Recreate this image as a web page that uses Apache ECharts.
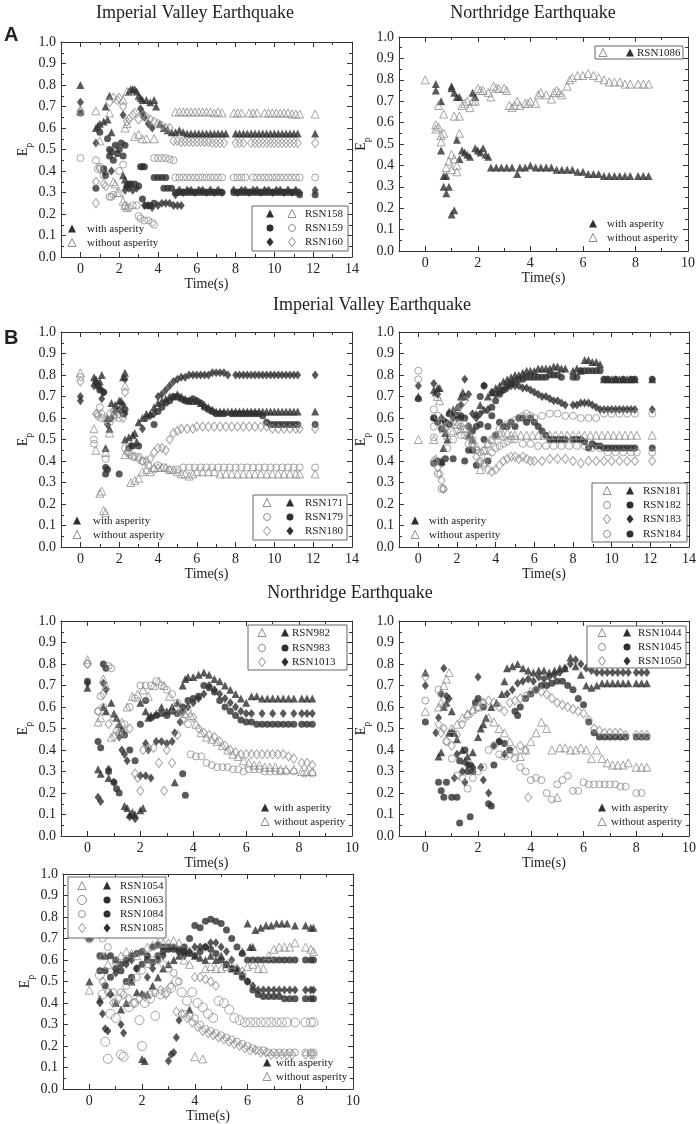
<!DOCTYPE html>
<html>
<head>
<meta charset="utf-8">
<script src="https://cdn.jsdelivr.net/npm/echarts@6/dist/echarts.min.js"></script>
<style>
html, body { margin: 0; padding: 0; background: #fff; }
#chart { width: 699px; height: 1124px; }
</style>
</head>
<body>
<div id="chart"></div>
<script>
// tick values
var ticks14 = [0, 2, 4, 6, 8, 10, 12, 14];
var minor14 = [-1, 1, 3, 5, 7, 9, 11, 13];
var ticks10 = [0, 2, 4, 6, 8, 10];
var minor10 = [-1, 1, 3, 5, 7, 9];

// ---- A, Imperial Valley: [time, Ep] ----
var a158With = [[0,0.80],[0.8,0.60],[0.9,0.61],[1.0,0.62],[1.2,0.63],[1.3,0.70],[1.4,0.64],[1.5,0.75],[1.6,0.58],[2.2,0.38],[2.3,0.36],[2.4,0.34],[2.5,0.77],[2.6,0.78],[2.7,0.78],[2.8,0.78],[2.9,0.77],[3.0,0.75],[3.1,0.74],[3.2,0.73],[3.4,0.73],[3.6,0.72],[3.8,0.73],[3.9,0.70],[4.1,0.62],[4.3,0.60],[4.5,0.59],[4.7,0.58],[4.9,0.58],[5.1,0.59],[5.3,0.58],[5.5,0.575],[5.7,0.575],[5.9,0.575],[6.1,0.575],[6.3,0.575],[6.5,0.575],[6.7,0.575],[6.9,0.575],[7.1,0.575],[7.3,0.575],[7.5,0.575],[8.0,0.575],[8.2,0.575],[8.4,0.575],[8.6,0.575],[8.8,0.575],[9.0,0.575],[9.2,0.575],[9.4,0.575],[9.6,0.575],[9.8,0.575],[10.0,0.575],[10.2,0.575],[10.4,0.575],[10.6,0.575],[10.8,0.575],[11.0,0.575],[11.2,0.575],[12.1,0.575]];
var a158Without = [[0,0.68],[0.8,0.68],[1.0,0.54],[1.5,0.67],[1.7,0.35],[1.8,0.34],[1.9,0.30],[2.0,0.30],[2.2,0.26],[2.3,0.60],[2.4,0.62],[2.3,0.24],[2.4,0.23],[2.2,0.73],[2.4,0.77],[2.8,0.56],[3.0,0.57],[3.2,0.55],[3.4,0.55],[3.8,0.55],[4.9,0.675],[5.1,0.675],[5.3,0.675],[5.5,0.675],[5.7,0.675],[5.9,0.675],[6.1,0.675],[6.3,0.675],[6.5,0.675],[6.7,0.675],[6.9,0.67],[7.1,0.675],[7.3,0.67],[7.9,0.67],[8.1,0.67],[8.3,0.67],[8.7,0.67],[8.9,0.67],[9.1,0.67],[9.5,0.67],[9.7,0.67],[9.9,0.67],[10.1,0.67],[10.3,0.67],[10.5,0.67],[10.7,0.67],[10.9,0.665],[11.1,0.665],[11.3,0.665],[12.1,0.665]];
var a159With = [[0,0.67],[0.8,0.32],[1.0,0.58],[1.2,0.41],[1.3,0.38],[1.4,0.55],[1.5,0.50],[1.5,0.47],[1.6,0.49],[1.7,0.45],[1.8,0.52],[1.9,0.48],[2.0,0.50],[2.1,0.53],[2.2,0.47],[2.3,0.52],[2.4,0.33],[2.5,0.34],[2.6,0.34],[2.8,0.34],[3.0,0.33],[3.1,0.42],[3.2,0.42],[3.3,0.42],[3.2,0.27],[3.4,0.24],[3.6,0.24],[3.8,0.25],[3.8,0.37],[4.0,0.37],[4.2,0.37],[4.4,0.37],[4.3,0.32],[4.5,0.32],[4.7,0.32],[4.9,0.30],[5.1,0.30],[5.3,0.30],[5.5,0.30],[5.7,0.30],[5.9,0.30],[6.1,0.30],[6.3,0.30],[6.5,0.30],[6.7,0.30],[6.9,0.30],[7.1,0.30],[7.3,0.30],[7.9,0.30],[8.1,0.30],[8.3,0.30],[8.5,0.30],[8.7,0.30],[8.9,0.30],[9.1,0.30],[9.3,0.30],[9.5,0.30],[9.7,0.30],[9.9,0.30],[10.1,0.30],[10.3,0.30],[10.5,0.30],[10.7,0.30],[10.9,0.30],[11.1,0.30],[11.3,0.29],[12.1,0.29]];
var a159Without = [[0,0.46],[0.8,0.45],[0.9,0.41],[1.0,0.42],[1.2,0.38],[1.3,0.39],[1.5,0.28],[1.6,0.28],[1.7,0.29],[2.0,0.40],[2.2,0.43],[2.3,0.24],[2.5,0.23],[2.7,0.24],[2.9,0.24],[3.0,0.19],[3.1,0.18],[3.3,0.17],[3.5,0.17],[3.7,0.16],[3.8,0.15],[3.8,0.46],[4.0,0.46],[4.2,0.46],[4.4,0.46],[4.6,0.455],[4.8,0.45],[4.9,0.37],[5.1,0.37],[5.3,0.37],[5.5,0.37],[5.7,0.37],[5.9,0.37],[6.1,0.37],[6.3,0.37],[6.5,0.37],[6.7,0.37],[6.9,0.37],[7.1,0.37],[7.3,0.37],[7.9,0.37],[8.1,0.37],[8.3,0.37],[8.5,0.37],[8.9,0.37],[9.1,0.37],[9.3,0.37],[9.5,0.37],[9.7,0.37],[9.9,0.37],[10.1,0.37],[10.3,0.37],[10.5,0.37],[10.7,0.37],[10.9,0.37],[11.1,0.37],[11.3,0.37],[12.1,0.37]];
var a160With = [[0,0.72],[0.8,0.53],[1.2,0.40],[1.3,0.38],[1.6,0.40],[2.2,0.66],[2.3,0.31],[2.5,0.32],[2.7,0.31],[2.9,0.32],[3.1,0.69],[3.2,0.67],[3.3,0.65],[3.5,0.62],[3.7,0.60],[3.3,0.24],[3.5,0.24],[3.7,0.23],[4.0,0.24],[4.2,0.25],[4.4,0.25],[4.6,0.25],[4.8,0.24],[5.0,0.24],[5.2,0.24],[4.9,0.29],[5.1,0.31],[5.3,0.30],[5.5,0.31],[5.7,0.31],[5.9,0.30],[6.1,0.31],[6.3,0.31],[6.5,0.30],[6.7,0.31],[6.9,0.30],[7.1,0.31],[7.3,0.30],[7.9,0.31],[8.1,0.30],[8.3,0.31],[8.5,0.31],[8.7,0.30],[8.9,0.31],[9.1,0.31],[9.3,0.30],[9.5,0.31],[9.7,0.31],[9.9,0.30],[10.1,0.31],[10.3,0.31],[10.5,0.30],[10.7,0.31],[10.9,0.30],[11.1,0.31],[11.3,0.30],[12.1,0.31]];
var a160Without = [[0,0.68],[0.8,0.35],[0.8,0.25],[1.0,0.41],[1.2,0.34],[1.3,0.33],[1.5,0.72],[1.7,0.74],[1.9,0.73],[2.0,0.74],[2.2,0.70],[2.4,0.63],[2.5,0.64],[2.7,0.66],[2.8,0.67],[3.0,0.64],[3.2,0.66],[3.4,0.65],[3.6,0.64],[3.8,0.63],[4.0,0.62],[4.2,0.61],[4.4,0.60],[4.6,0.60],[4.8,0.54],[5.0,0.54],[5.2,0.535],[5.4,0.535],[5.6,0.535],[5.8,0.535],[6.0,0.535],[6.2,0.535],[6.4,0.535],[6.6,0.535],[6.8,0.53],[7.0,0.53],[7.2,0.53],[7.4,0.53],[8.0,0.53],[8.2,0.53],[8.4,0.53],[8.8,0.53],[9.0,0.53],[9.2,0.53],[9.4,0.53],[9.6,0.53],[9.8,0.53],[10.0,0.53],[10.2,0.53],[10.4,0.53],[10.6,0.53],[10.8,0.53],[11.0,0.53],[11.2,0.53],[12.1,0.53]];

// ---- A, Northridge ----
var a1086With = [[0.4,0.78],[0.4,0.75],[0.6,0.70],[0.6,0.47],[0.7,0.35],[0.7,0.30],[0.8,0.27],[0.8,0.35],[0.9,0.30],[1.0,0.77],[1.0,0.76],[1.0,0.17],[1.1,0.19],[1.1,0.74],[1.2,0.72],[1.2,0.52],[1.3,0.72],[1.3,0.43],[1.4,0.47],[1.5,0.46],[1.6,0.45],[1.7,0.44],[1.8,0.74],[1.9,0.72],[1.9,0.48],[2.0,0.47],[2.1,0.46],[2.2,0.48],[2.3,0.45],[2.4,0.44],[2.5,0.39],[2.7,0.39],[2.9,0.39],[3.1,0.39],[3.3,0.39],[3.5,0.36],[3.6,0.39],[3.8,0.39],[4.0,0.40],[4.2,0.39],[4.4,0.39],[4.6,0.39],[4.8,0.39],[5.0,0.38],[5.2,0.38],[5.4,0.38],[5.6,0.38],[5.8,0.37],[6.0,0.37],[6.2,0.36],[6.4,0.36],[6.6,0.36],[6.8,0.35],[7.0,0.35],[7.2,0.35],[7.4,0.35],[7.6,0.35],[7.8,0.35],[8.1,0.35],[8.3,0.35],[8.5,0.35]];
var a1086Without = [[0,0.80],[0.4,0.59],[0.4,0.57],[0.5,0.68],[0.5,0.58],[0.6,0.54],[0.6,0.51],[0.7,0.55],[0.7,0.64],[0.8,0.39],[0.9,0.42],[1.0,0.45],[1.0,0.38],[1.1,0.43],[1.1,0.63],[1.2,0.40],[1.2,0.37],[1.3,0.55],[1.3,0.63],[1.4,0.68],[1.5,0.69],[1.6,0.70],[1.7,0.67],[1.8,0.70],[1.9,0.70],[2.0,0.76],[2.1,0.75],[2.2,0.75],[2.4,0.74],[2.5,0.72],[2.6,0.77],[2.7,0.76],[2.8,0.76],[3.0,0.76],[3.1,0.75],[3.2,0.68],[3.3,0.67],[3.4,0.68],[3.5,0.70],[3.6,0.68],[3.8,0.69],[3.9,0.69],[4.0,0.70],[4.2,0.69],[4.3,0.73],[4.4,0.74],[4.6,0.73],[4.8,0.71],[4.9,0.74],[5.0,0.75],[5.1,0.74],[5.2,0.73],[5.4,0.77],[5.5,0.80],[5.6,0.81],[5.8,0.82],[6.0,0.82],[6.2,0.83],[6.4,0.82],[6.6,0.81],[6.8,0.80],[7.0,0.79],[7.2,0.79],[7.4,0.79],[7.6,0.78],[7.8,0.78],[8.1,0.78],[8.3,0.78],[8.5,0.78]];

// ---- B, Imperial Valley (left) ----
var b171With = [[0.7,0.79],[0.8,0.78],[1.0,0.77],[1.1,0.80],[1.3,0.46],[1.4,0.60],[1.5,0.55],[1.6,0.67],[1.8,0.66],[2.0,0.68],[2.1,0.68],[2.2,0.79],[2.3,0.81],[2.3,0.50],[2.5,0.51],[2.7,0.52],[2.8,0.53],[2.9,0.49],[3.0,0.58],[3.2,0.60],[3.4,0.62],[3.6,0.62],[3.8,0.65],[4.0,0.67],[4.2,0.68],[4.4,0.69],[4.6,0.70],[4.8,0.70],[5.0,0.71],[5.2,0.70],[5.4,0.69],[5.6,0.68],[5.8,0.68],[6.0,0.68],[6.2,0.67],[6.4,0.66],[6.6,0.65],[6.8,0.64],[7.0,0.63],[7.2,0.63],[7.4,0.63],[7.6,0.63],[7.8,0.63],[8.0,0.63],[8.2,0.63],[8.4,0.63],[8.6,0.63],[8.8,0.63],[9.0,0.63],[9.2,0.63],[9.4,0.63],[9.6,0.63],[9.8,0.63],[10.0,0.63],[10.2,0.63],[10.4,0.63],[10.6,0.63],[10.8,0.63],[11.0,0.63],[11.2,0.63],[12.1,0.63]];
var b171Without = [[0,0.81],[0.7,0.55],[0.8,0.45],[1.0,0.25],[1.1,0.26],[1.2,0.17],[1.3,0.16],[1.3,0.44],[1.5,0.53],[1.7,0.62],[2.3,0.75],[2.3,0.43],[2.6,0.30],[2.8,0.31],[3.0,0.32],[3.2,0.35],[3.4,0.36],[3.6,0.35],[3.8,0.37],[4.0,0.37],[4.2,0.37],[4.4,0.37],[4.6,0.36],[4.8,0.36],[5.0,0.35],[5.2,0.34],[5.4,0.34],[5.6,0.33],[5.8,0.34],[6.0,0.35],[6.3,0.35],[6.6,0.35],[6.9,0.35],[7.2,0.34],[7.5,0.34],[7.8,0.34],[8.1,0.34],[8.4,0.34],[8.7,0.34],[9.0,0.34],[9.3,0.34],[9.6,0.34],[9.9,0.34],[10.2,0.34],[10.5,0.34],[10.8,0.34],[11.1,0.34],[11.3,0.34],[12.1,0.34]];
var b179With = [[0.9,0.75],[1.0,0.73],[1.2,0.72],[1.3,0.37],[1.3,0.34],[1.4,0.36],[2.0,0.34],[2.2,0.62],[2.3,0.64],[2.5,0.46],[2.7,0.47],[3.0,0.47],[3.8,0.57],[4.0,0.63],[4.2,0.65],[4.4,0.67],[4.6,0.68],[4.8,0.70],[5.0,0.70],[5.2,0.69],[5.4,0.68],[5.6,0.68],[5.8,0.69],[6.0,0.68],[6.2,0.67],[6.4,0.65],[6.6,0.64],[6.8,0.63],[7.0,0.62],[7.2,0.62],[7.4,0.62],[7.8,0.62],[8.0,0.62],[8.2,0.62],[8.4,0.62],[8.6,0.62],[8.8,0.62],[9.0,0.62],[9.2,0.62],[9.4,0.61],[9.6,0.58],[9.8,0.57],[10.0,0.57],[10.2,0.57],[10.4,0.57],[10.6,0.57],[10.8,0.57],[11.0,0.57],[11.2,0.57],[12.1,0.57]];
var b179Without = [[0,0.79],[0.7,0.50],[0.7,0.48],[0.9,0.62],[1.0,0.65],[1.1,0.60],[1.3,0.41],[1.5,0.58],[1.7,0.60],[2.0,0.60],[2.3,0.46],[2.5,0.44],[2.7,0.42],[3.0,0.42],[3.2,0.40],[3.5,0.38],[3.8,0.36],[4.0,0.38],[4.3,0.37],[4.6,0.36],[5.0,0.36],[5.3,0.37],[5.6,0.37],[5.9,0.37],[6.2,0.37],[6.5,0.37],[6.8,0.37],[7.1,0.37],[7.4,0.37],[7.7,0.37],[8.0,0.37],[8.3,0.37],[8.6,0.37],[8.9,0.37],[9.2,0.37],[9.5,0.37],[9.8,0.37],[10.1,0.37],[10.4,0.37],[10.7,0.37],[11.0,0.37],[11.3,0.37],[12.1,0.37]];
var b180With = [[0,0.70],[0,0.68],[0.7,0.75],[0.8,0.76],[1.0,0.74],[1.1,0.69],[1.2,0.72],[1.4,0.57],[1.6,0.60],[1.8,0.63],[2.0,0.64],[2.2,0.66],[2.3,0.78],[2.3,0.62],[2.6,0.47],[3.2,0.55],[3.4,0.60],[3.6,0.61],[3.8,0.62],[4.0,0.70],[4.2,0.71],[4.4,0.73],[4.6,0.75],[4.8,0.77],[5.0,0.78],[5.2,0.79],[5.4,0.79],[5.6,0.80],[5.8,0.80],[6.0,0.80],[6.2,0.80],[6.4,0.80],[6.6,0.80],[6.8,0.81],[7.0,0.81],[7.2,0.81],[7.4,0.81],[7.6,0.80],[8.0,0.80],[8.2,0.80],[8.4,0.80],[8.6,0.80],[8.8,0.80],[9.0,0.80],[9.2,0.80],[9.4,0.80],[9.6,0.80],[9.8,0.80],[10.0,0.80],[10.2,0.80],[10.4,0.80],[10.6,0.80],[10.8,0.80],[11.0,0.80],[11.2,0.80],[12.1,0.80]];
var b180Without = [[0,0.77],[0.8,0.62],[0.9,0.61],[1.1,0.62],[1.3,0.59],[1.5,0.62],[1.7,0.63],[2.0,0.62],[2.2,0.60],[2.3,0.72],[2.4,0.44],[2.6,0.43],[2.8,0.42],[3.0,0.41],[3.2,0.40],[3.4,0.40],[3.6,0.41],[3.8,0.44],[4.0,0.46],[4.2,0.46],[4.4,0.45],[4.6,0.50],[4.8,0.53],[5.0,0.54],[5.2,0.55],[5.5,0.55],[5.8,0.55],[6.0,0.56],[6.3,0.56],[6.6,0.56],[6.9,0.56],[7.2,0.56],[7.5,0.56],[7.8,0.56],[8.1,0.56],[8.4,0.56],[8.7,0.56],[9.0,0.56],[9.3,0.56],[9.6,0.56],[9.9,0.55],[10.2,0.55],[10.5,0.55],[10.8,0.55],[11.1,0.55],[11.3,0.55],[12.1,0.55]];

// ---- B, Imperial Valley (right) ----
var b181With = [[0,0.70],[0.8,0.73],[0.9,0.72],[1.0,0.74],[1.1,0.74],[1.2,0.40],[1.3,0.46],[1.4,0.53],[1.5,0.50],[1.6,0.63],[1.8,0.64],[2.0,0.65],[2.2,0.70],[2.3,0.72],[2.4,0.70],[2.6,0.52],[2.8,0.50],[3.0,0.62],[3.2,0.66],[3.4,0.64],[3.6,0.70],[3.8,0.72],[4.0,0.74],[4.2,0.75],[4.4,0.77],[4.6,0.78],[4.8,0.79],[5.0,0.80],[5.2,0.80],[5.4,0.81],[5.6,0.82],[5.8,0.82],[6.0,0.82],[6.2,0.83],[6.4,0.83],[6.6,0.83],[6.8,0.83],[7.0,0.84],[7.2,0.84],[7.4,0.83],[7.6,0.83],[8.0,0.82],[8.2,0.83],[8.4,0.82],[8.6,0.87],[8.8,0.87],[9.0,0.86],[9.2,0.86],[9.4,0.85],[9.6,0.78],[9.8,0.78],[10.0,0.78],[10.2,0.78],[10.4,0.78],[10.6,0.78],[10.8,0.78],[11.0,0.78],[11.2,0.78],[12.1,0.78]];
var b181Without = [[0,0.50],[0.8,0.50],[0.9,0.41],[1.0,0.70],[1.1,0.68],[1.3,0.55],[1.5,0.52],[1.8,0.54],[2.0,0.57],[2.2,0.55],[2.4,0.58],[2.6,0.52],[2.8,0.50],[3.0,0.47],[3.2,0.36],[3.4,0.45],[3.6,0.48],[3.8,0.50],[4.0,0.52],[4.2,0.53],[4.4,0.52],[4.6,0.53],[4.8,0.52],[5.0,0.52],[5.3,0.52],[5.6,0.52],[5.9,0.52],[6.2,0.52],[6.5,0.52],[6.8,0.52],[7.1,0.52],[7.4,0.52],[7.7,0.52],[8.0,0.52],[8.3,0.52],[8.6,0.52],[8.9,0.52],[9.2,0.52],[9.5,0.52],[9.8,0.52],[10.1,0.52],[10.4,0.52],[10.7,0.52],[11.0,0.52],[11.3,0.52],[12.1,0.52]];
var b182With = [[0,0.69],[0.8,0.60],[0.8,0.39],[1.0,0.40],[1.2,0.39],[1.4,0.41],[1.6,0.57],[1.8,0.41],[2.0,0.61],[2.2,0.60],[2.4,0.40],[2.6,0.45],[2.8,0.45],[3.0,0.38],[3.2,0.70],[3.4,0.75],[3.6,0.40],[3.8,0.61],[4.0,0.52],[4.2,0.58],[4.4,0.56],[4.6,0.56],[4.8,0.58],[5.0,0.56],[5.2,0.60],[5.4,0.60],[5.6,0.58],[5.8,0.60],[6.0,0.58],[6.2,0.56],[6.4,0.54],[6.6,0.52],[6.8,0.50],[7.0,0.50],[7.2,0.50],[7.4,0.50],[7.6,0.50],[8.0,0.50],[8.2,0.50],[8.4,0.50],[8.6,0.49],[8.8,0.46],[9.0,0.48],[9.2,0.47],[9.4,0.47],[9.6,0.46],[9.8,0.46],[10.0,0.46],[10.2,0.46],[10.4,0.46],[10.6,0.46],[10.8,0.46],[11.0,0.46],[11.2,0.46],[12.1,0.46]];
var b182Without = [[0,0.82],[0,0.78],[0.8,0.64],[0.8,0.56],[1.0,0.61],[1.2,0.58],[1.4,0.56],[1.6,0.57],[1.8,0.58],[2.0,0.58],[2.2,0.52],[2.4,0.52],[2.6,0.48],[2.8,0.47],[3.0,0.45],[3.2,0.44],[3.4,0.45],[3.6,0.48],[3.8,0.50],[4.0,0.52],[4.2,0.55],[4.4,0.56],[4.6,0.57],[4.8,0.58],[5.0,0.59],[5.2,0.60],[5.4,0.61],[5.6,0.62],[5.8,0.61],[6.0,0.60],[6.4,0.61],[6.8,0.62],[7.2,0.62],[7.6,0.61],[8.0,0.61],[8.4,0.60],[8.8,0.60],[9.2,0.60],[9.6,0.62],[10.0,0.62],[10.4,0.62],[10.8,0.62],[11.2,0.62],[12.1,0.62]];
var b183With = [[0,0.75],[0.8,0.76],[1.0,0.71],[1.2,0.60],[1.4,0.58],[1.6,0.57],[1.8,0.60],[2.0,0.60],[2.2,0.66],[2.4,0.78],[2.6,0.71],[2.8,0.62],[3.0,0.60],[3.2,0.62],[3.4,0.75],[3.6,0.64],[3.8,0.72],[4.0,0.71],[4.2,0.72],[4.4,0.73],[4.6,0.74],[4.8,0.75],[5.0,0.75],[5.2,0.75],[5.4,0.74],[5.6,0.74],[5.8,0.73],[6.0,0.72],[6.2,0.71],[6.4,0.70],[6.6,0.70],[6.8,0.69],[7.0,0.68],[7.2,0.68],[7.4,0.67],[7.6,0.66],[8.0,0.66],[8.2,0.66],[8.4,0.67],[8.6,0.67],[8.8,0.67],[9.0,0.66],[9.2,0.65],[9.4,0.64],[9.6,0.64],[9.8,0.64],[10.0,0.64],[10.2,0.64],[10.4,0.64],[10.6,0.64],[10.8,0.64],[11.0,0.64],[11.2,0.64],[12.1,0.64]];
var b183Without = [[0.8,0.40],[1.0,0.37],[1.1,0.34],[1.2,0.31],[1.3,0.27],[1.5,0.56],[1.8,0.62],[2.0,0.63],[2.2,0.66],[2.4,0.68],[2.6,0.56],[2.8,0.48],[3.0,0.42],[3.2,0.39],[3.4,0.38],[3.6,0.36],[3.8,0.35],[4.0,0.36],[4.2,0.38],[4.4,0.40],[4.6,0.41],[4.8,0.42],[5.0,0.42],[5.2,0.41],[5.4,0.42],[5.6,0.41],[5.8,0.40],[6.0,0.40],[6.4,0.40],[6.8,0.41],[7.2,0.41],[7.6,0.41],[8.0,0.40],[8.4,0.39],[8.8,0.40],[9.2,0.40],[9.6,0.40],[10.0,0.40],[10.4,0.40],[10.8,0.40],[11.2,0.40],[12.1,0.40]];
var b184With = [[0.8,0.60],[1.0,0.58],[1.2,0.55],[1.4,0.58],[1.6,0.62],[1.8,0.62],[2.0,0.61],[2.2,0.61],[2.4,0.60],[2.6,0.56],[2.8,0.54],[3.0,0.56],[3.2,0.57],[3.4,0.50],[3.6,0.56],[3.8,0.65],[4.0,0.68],[4.2,0.71],[4.4,0.73],[4.6,0.75],[4.8,0.76],[5.0,0.77],[5.2,0.78],[5.4,0.78],[5.6,0.79],[5.8,0.79],[6.0,0.79],[6.2,0.79],[6.4,0.79],[6.6,0.79],[6.8,0.80],[7.0,0.80],[7.2,0.80],[7.4,0.79],[8.0,0.79],[8.2,0.79],[8.4,0.82],[8.6,0.82],[8.8,0.82],[9.0,0.82],[9.2,0.82],[9.4,0.82],[9.6,0.78],[9.8,0.78],[10.2,0.78],[10.6,0.78],[11.0,0.78],[11.2,0.78],[12.1,0.78]];
var b184Without = [[0.8,0.51],[1.0,0.34],[1.2,0.27],[1.3,0.27],[1.5,0.46],[1.8,0.50],[2.0,0.54],[2.2,0.56],[2.4,0.55],[2.6,0.52],[2.8,0.50],[3.0,0.45],[3.2,0.40],[3.4,0.39],[3.6,0.42],[3.8,0.44],[4.0,0.46],[4.2,0.47],[4.4,0.48],[4.6,0.49],[4.8,0.50],[5.0,0.50],[5.4,0.48],[5.8,0.48],[6.2,0.47],[6.6,0.47],[7.0,0.47],[7.4,0.47],[7.8,0.47],[8.2,0.47],[8.6,0.47],[9.0,0.46],[9.4,0.46],[9.8,0.44],[10.2,0.44],[10.6,0.44],[11.0,0.44],[11.3,0.44],[12.1,0.44]];

// ---- Northridge (left) ----
var c982With = [[0,0.69],[0.4,0.31],[0.5,0.29],[0.6,0.60],[0.7,0.58],[0.8,0.27],[0.9,0.62],[1.0,0.57],[1.1,0.55],[1.2,0.52],[1.3,0.50],[1.4,0.14],[1.5,0.13],[1.6,0.10],[1.7,0.11],[1.8,0.10],[2.0,0.12],[2.1,0.13],[2.0,0.62],[2.2,0.58],[2.3,0.55],[2.4,0.56],[2.6,0.57],[2.8,0.60],[3.0,0.58],[3.2,0.60],[3.3,0.25],[3.4,0.62],[3.6,0.70],[3.7,0.73],[3.8,0.74],[4.0,0.74],[4.2,0.75],[4.4,0.76],[4.6,0.75],[4.8,0.73],[5.0,0.72],[5.2,0.70],[5.4,0.68],[5.6,0.66],[5.8,0.64],[6.0,0.62],[6.2,0.65],[6.4,0.65],[6.6,0.64],[6.8,0.64],[7.0,0.64],[7.2,0.64],[7.4,0.64],[7.6,0.64],[7.8,0.64],[8.1,0.64],[8.3,0.64],[8.5,0.64]];
var c982Without = [[0,0.82],[0.4,0.53],[0.5,0.55],[0.6,0.73],[0.7,0.70],[0.9,0.46],[1.1,0.50],[1.3,0.53],[1.5,0.60],[1.7,0.65],[1.9,0.66],[2.1,0.68],[2.3,0.65],[2.5,0.70],[2.7,0.72],[2.9,0.70],[3.1,0.65],[3.3,0.60],[3.5,0.58],[3.7,0.57],[3.9,0.56],[4.1,0.52],[4.3,0.48],[4.5,0.46],[4.7,0.45],[4.9,0.44],[5.1,0.42],[5.3,0.40],[5.5,0.38],[5.7,0.37],[5.9,0.35],[6.1,0.34],[6.3,0.33],[6.5,0.33],[6.7,0.32],[6.9,0.32],[7.1,0.32],[7.3,0.31],[7.5,0.31],[7.8,0.31],[8.1,0.30],[8.3,0.30],[8.5,0.30]];
var c983With = [[0,0.72],[0.4,0.44],[0.5,0.41],[0.6,0.80],[0.7,0.78],[0.8,0.30],[1.0,0.25],[1.1,0.22],[1.2,0.20],[1.4,0.47],[1.6,0.40],[1.8,0.35],[2.0,0.52],[2.2,0.63],[2.4,0.55],[2.6,0.56],[2.8,0.57],[3.0,0.56],[3.2,0.58],[3.4,0.57],[3.6,0.29],[3.7,0.19],[3.6,0.60],[3.8,0.63],[4.0,0.64],[4.2,0.65],[4.4,0.70],[4.6,0.69],[4.8,0.67],[5.0,0.63],[5.2,0.60],[5.4,0.58],[5.6,0.56],[5.8,0.54],[6.0,0.53],[6.2,0.53],[6.4,0.52],[6.6,0.52],[6.8,0.52],[7.0,0.52],[7.2,0.52],[7.4,0.52],[7.6,0.52],[7.8,0.52],[8.1,0.52],[8.3,0.52],[8.5,0.52]];
var c983Without = [[0,0.80],[0.4,0.58],[0.5,0.65],[0.6,0.60],[0.8,0.79],[0.9,0.78],[1.0,0.55],[1.2,0.48],[1.4,0.52],[1.6,0.60],[1.8,0.64],[2.0,0.70],[2.2,0.70],[2.4,0.70],[2.6,0.72],[2.8,0.70],[3.0,0.68],[3.2,0.66],[3.4,0.62],[3.6,0.58],[3.8,0.52],[3.9,0.38],[4.1,0.37],[4.3,0.37],[4.5,0.34],[4.7,0.33],[4.9,0.32],[5.1,0.32],[5.3,0.32],[5.5,0.31],[5.7,0.31],[5.9,0.30],[6.1,0.31],[6.3,0.31],[6.5,0.31],[6.7,0.30],[6.9,0.30],[7.1,0.30],[7.3,0.30],[7.5,0.30],[7.8,0.30],[8.2,0.29],[8.5,0.29]];
var c1013With = [[0,0.71],[0.4,0.18],[0.5,0.16],[0.6,0.71],[0.7,0.68],[0.8,0.31],[1.0,0.25],[1.2,0.46],[1.3,0.40],[1.4,0.38],[1.5,0.35],[1.6,0.09],[1.8,0.08],[2.0,0.28],[2.2,0.28],[2.4,0.27],[2.2,0.43],[2.3,0.40],[2.6,0.44],[2.8,0.44],[3.0,0.43],[3.2,0.44],[3.3,0.48],[3.5,0.53],[3.6,0.58],[3.8,0.60],[4.0,0.62],[4.2,0.64],[4.4,0.66],[4.6,0.70],[4.8,0.68],[5.0,0.66],[5.2,0.64],[5.4,0.62],[5.6,0.60],[5.8,0.58],[6.0,0.57],[6.2,0.57],[6.6,0.57],[7.0,0.57],[7.4,0.57],[7.8,0.57],[8.1,0.57],[8.3,0.57],[8.5,0.57]];
var c1013Without = [[0,0.80],[0.4,0.58],[0.6,0.66],[0.8,0.52],[1.0,0.46],[1.2,0.47],[1.4,0.48],[1.6,0.50],[1.8,0.29],[1.9,0.27],[2.0,0.21],[2.1,0.40],[2.3,0.41],[2.5,0.41],[2.7,0.34],[2.9,0.21],[3.0,0.40],[3.2,0.34],[3.4,0.47],[3.6,0.54],[3.8,0.58],[4.0,0.55],[4.2,0.50],[4.4,0.48],[4.6,0.47],[4.8,0.46],[5.0,0.44],[5.2,0.42],[5.4,0.40],[5.6,0.39],[5.8,0.38],[6.0,0.38],[6.2,0.38],[6.4,0.38],[6.6,0.38],[6.8,0.38],[7.0,0.38],[7.2,0.38],[7.4,0.38],[7.6,0.37],[7.8,0.36],[8.1,0.34],[8.3,0.34],[8.5,0.33]];

// ---- Northridge (right) ----
var c1044With = [[0,0.76],[0.5,0.37],[0.6,0.39],[0.7,0.60],[0.8,0.62],[0.9,0.48],[1.0,0.58],[1.1,0.48],[1.2,0.45],[1.4,0.40],[1.5,0.35],[1.6,0.37],[1.8,0.39],[2.0,0.46],[2.1,0.50],[2.2,0.52],[2.3,0.55],[2.5,0.60],[2.7,0.62],[2.9,0.66],[3.0,0.72],[3.1,0.78],[3.3,0.79],[3.5,0.80],[3.7,0.78],[3.9,0.77],[4.1,0.76],[4.3,0.77],[4.5,0.77],[4.7,0.76],[4.9,0.77],[5.1,0.78],[5.3,0.78],[5.5,0.83],[5.7,0.79],[5.9,0.75],[6.1,0.70],[6.3,0.69],[6.5,0.70],[6.7,0.71],[6.9,0.71],[7.1,0.71],[7.3,0.71],[7.5,0.71],[7.7,0.71],[8.0,0.71],[8.2,0.71],[8.4,0.71]];
var c1044Without = [[0,0.58],[0.5,0.60],[0.6,0.62],[0.7,0.70],[0.8,0.73],[0.9,0.76],[1.0,0.50],[1.2,0.52],[1.4,0.55],[1.6,0.57],[1.8,0.59],[2.0,0.60],[2.2,0.62],[2.4,0.55],[2.6,0.53],[2.8,0.50],[3.0,0.48],[3.2,0.44],[3.4,0.40],[3.6,0.37],[3.8,0.40],[4.0,0.44],[4.2,0.48],[4.4,0.53],[4.6,0.50],[4.8,0.40],[5.0,0.18],[5.1,0.41],[5.3,0.41],[5.5,0.40],[5.7,0.40],[5.9,0.41],[6.1,0.40],[6.3,0.36],[6.5,0.40],[6.7,0.36],[6.9,0.34],[7.1,0.33],[7.3,0.33],[7.5,0.33],[7.7,0.34],[8.0,0.32],[8.2,0.32],[8.4,0.32]];
var c1045With = [[0,0.53],[0.5,0.25],[0.6,0.21],[0.7,0.18],[0.8,0.25],[1.0,0.18],[1.2,0.18],[1.3,0.06],[1.7,0.09],[1.3,0.35],[1.5,0.40],[1.6,0.30],[1.7,0.33],[1.8,0.30],[1.9,0.62],[2.0,0.64],[2.2,0.60],[2.4,0.15],[2.5,0.14],[2.6,0.33],[2.8,0.44],[3.0,0.43],[3.2,0.40],[3.4,0.58],[3.5,0.56],[3.6,0.60],[3.8,0.64],[4.0,0.66],[4.2,0.68],[4.4,0.70],[4.6,0.70],[4.8,0.71],[5.0,0.72],[5.2,0.72],[5.4,0.70],[5.6,0.68],[5.8,0.64],[6.0,0.61],[6.2,0.53],[6.4,0.48],[6.6,0.46],[6.8,0.46],[7.0,0.46],[7.2,0.46],[7.4,0.46],[7.6,0.46],[8.0,0.46],[8.2,0.46],[8.4,0.46]];
var c1045Without = [[0,0.63],[0.5,0.68],[0.6,0.66],[0.7,0.60],[0.8,0.44],[1.0,0.36],[1.2,0.28],[1.4,0.27],[1.6,0.22],[1.8,0.27],[2.0,0.30],[2.2,0.32],[2.4,0.40],[2.6,0.42],[2.8,0.38],[3.0,0.37],[3.2,0.38],[3.4,0.36],[3.6,0.32],[3.8,0.30],[4.0,0.26],[4.2,0.27],[4.4,0.26],[4.6,0.20],[4.8,0.17],[5.0,0.24],[5.2,0.26],[5.4,0.28],[5.6,0.21],[5.8,0.21],[6.0,0.25],[6.2,0.24],[6.4,0.24],[6.6,0.24],[6.8,0.24],[7.0,0.24],[7.2,0.24],[7.4,0.23],[7.6,0.23],[8.0,0.20],[8.2,0.20]];
var c1050With = [[0,0.70],[0.4,0.48],[0.5,0.55],[0.6,0.66],[0.7,0.78],[0.8,0.65],[0.9,0.64],[1.0,0.48],[1.1,0.27],[1.2,0.38],[1.4,0.30],[1.5,0.25],[1.6,0.33],[1.8,0.32],[2.0,0.74],[2.1,0.32],[2.2,0.26],[2.4,0.20],[2.6,0.42],[2.8,0.44],[3.0,0.38],[3.1,0.66],[3.3,0.68],[3.5,0.71],[3.7,0.72],[3.9,0.73],[4.1,0.72],[4.3,0.74],[4.5,0.73],[4.7,0.74],[4.9,0.75],[5.1,0.76],[5.3,0.78],[5.5,0.80],[5.7,0.82],[5.9,0.80],[6.1,0.78],[6.3,0.77],[6.5,0.76],[6.7,0.76],[6.9,0.76],[7.1,0.76],[7.3,0.76],[7.5,0.76],[7.7,0.76],[8.0,0.76],[8.2,0.76],[8.4,0.76]];
var c1050Without = [[0,0.74],[0.5,0.52],[0.6,0.48],[0.7,0.50],[0.8,0.44],[1.0,0.42],[1.2,0.47],[1.4,0.52],[1.6,0.56],[1.8,0.58],[2.0,0.60],[2.2,0.62],[2.4,0.63],[2.6,0.62],[2.8,0.60],[3.0,0.58],[3.2,0.62],[3.4,0.63],[3.6,0.42],[3.8,0.40],[3.9,0.18],[3.6,0.64],[3.8,0.65],[4.0,0.67],[4.2,0.68],[4.4,0.67],[4.6,0.66],[4.8,0.64],[5.0,0.62],[5.2,0.61],[5.4,0.60],[5.6,0.59],[5.8,0.58],[6.0,0.57],[6.2,0.54],[6.4,0.50],[6.6,0.49],[6.8,0.48],[7.0,0.48],[7.2,0.48],[7.4,0.48],[7.6,0.47],[8.0,0.47],[8.2,0.47],[8.4,0.47]];

// ---- Northridge (bottom) ----
var d1054With = [[0,0.50],[0.4,0.42],[0.6,0.62],[0.8,0.45],[1.0,0.40],[1.2,0.37],[1.4,0.40],[1.6,0.50],[1.8,0.45],[2.0,0.14],[2.1,0.13],[2.2,0.44],[2.4,0.48],[2.6,0.52],[2.8,0.56],[3.0,0.58],[3.2,0.60],[3.4,0.62],[3.6,0.64],[3.8,0.37],[4.0,0.62],[4.2,0.61],[4.4,0.60],[4.6,0.62],[4.8,0.60],[5.0,0.62],[5.2,0.58],[5.4,0.56],[5.6,0.55],[5.8,0.64],[6.0,0.77],[6.1,0.66],[6.2,0.66],[6.3,0.74],[6.5,0.75],[6.7,0.76],[6.9,0.76],[7.1,0.77],[7.3,0.77],[7.5,0.77],[7.8,0.76],[8.2,0.76],[8.4,0.75],[8.5,0.75]];
var d1054Without = [[0,0.46],[0.5,0.62],[0.7,0.58],[1.0,0.60],[1.2,0.62],[1.4,0.64],[1.6,0.63],[1.8,0.62],[2.0,0.64],[2.2,0.66],[2.4,0.67],[2.6,0.68],[2.8,0.68],[3.0,0.68],[3.2,0.69],[3.4,0.68],[3.6,0.60],[3.8,0.58],[4.0,0.15],[4.3,0.14],[4.4,0.56],[4.6,0.57],[4.8,0.56],[5.0,0.56],[5.2,0.57],[5.4,0.58],[5.6,0.56],[5.8,0.55],[6.0,0.57],[6.2,0.58],[6.4,0.56],[6.6,0.56],[6.8,0.62],[7.0,0.65],[7.2,0.66],[7.4,0.66],[7.6,0.66],[7.8,0.68],[8.2,0.66],[8.4,0.65],[8.5,0.64]];
var d1063With = [[0,0.70],[0.4,0.62],[0.6,0.55],[0.8,0.62],[1.0,0.60],[1.2,0.58],[1.4,0.60],[1.6,0.62],[1.8,0.63],[2.0,0.64],[2.2,0.62],[2.4,0.66],[2.6,0.67],[2.8,0.66],[3.0,0.66],[3.2,0.65],[3.4,0.64],[3.6,0.66],[3.8,0.70],[4.0,0.76],[4.2,0.75],[4.4,0.78],[4.6,0.79],[4.8,0.78],[5.0,0.77],[5.2,0.74],[5.4,0.70],[5.6,0.66],[5.8,0.63],[6.0,0.60],[6.2,0.60],[6.4,0.60],[6.6,0.60],[6.8,0.60],[7.0,0.60],[7.2,0.60],[7.4,0.60],[7.6,0.60],[7.8,0.60],[8.2,0.60],[8.4,0.60],[8.5,0.60]];
var d1063Without = [[0,0.70],[0.4,0.53],[0.5,0.44],[0.6,0.22],[0.7,0.14],[0.8,0.35],[1.0,0.33],[1.2,0.16],[1.3,0.15],[1.5,0.38],[1.7,0.40],[1.9,0.32],[2.0,0.20],[2.1,0.40],[2.3,0.42],[2.5,0.34],[2.7,0.44],[2.9,0.45],[3.1,0.47],[3.3,0.50],[3.5,0.45],[3.7,0.41],[3.9,0.45],[4.1,0.40],[4.3,0.38],[4.5,0.35],[4.7,0.33],[4.9,0.41],[5.1,0.40],[5.3,0.37],[5.5,0.33],[5.7,0.32],[5.9,0.31],[6.1,0.31],[6.3,0.31],[6.5,0.31],[6.7,0.31],[6.9,0.31],[7.1,0.31],[7.3,0.31],[7.5,0.31],[7.8,0.31],[8.2,0.31],[8.4,0.31],[8.5,0.31]];
var d1084With = [[0,0.72],[0.4,0.55],[0.6,0.48],[0.8,0.52],[1.0,0.56],[1.2,0.55],[1.4,0.50],[1.6,0.52],[1.8,0.56],[2.0,0.58],[2.2,0.60],[2.4,0.59],[2.6,0.62],[2.8,0.64],[3.0,0.65],[3.2,0.66],[3.4,0.65],[3.6,0.64],[3.8,0.63],[4.0,0.62],[4.2,0.64],[4.4,0.66],[4.6,0.65],[4.8,0.63],[5.0,0.60],[5.2,0.58],[5.4,0.56],[5.6,0.55],[5.8,0.52],[6.0,0.50],[6.2,0.46],[6.4,0.44],[6.6,0.43],[6.8,0.43],[7.0,0.43],[7.2,0.43],[7.4,0.42],[7.6,0.42],[7.8,0.42],[8.2,0.42],[8.4,0.42],[8.5,0.42]];
var d1084Without = [[0,0.72],[0.5,0.70],[0.7,0.66],[0.9,0.45],[1.0,0.40],[1.2,0.45],[1.4,0.48],[1.6,0.50],[1.8,0.52],[2.0,0.55],[2.2,0.58],[2.4,0.60],[2.6,0.61],[2.8,0.58],[3.0,0.56],[3.2,0.54],[3.4,0.50],[3.6,0.35],[3.8,0.34],[4.0,0.33],[4.2,0.30],[4.4,0.28],[4.6,0.27],[4.8,0.26],[5.0,0.25],[5.2,0.24],[5.4,0.23],[5.6,0.22],[5.8,0.21],[6.0,0.20],[6.2,0.19],[6.4,0.18],[6.6,0.18],[6.8,0.17],[7.0,0.17],[7.2,0.17],[7.4,0.17],[7.6,0.17],[7.8,0.17],[8.2,0.17],[8.4,0.17],[8.5,0.17]];
var d1085With = [[0,0.71],[0.4,0.40],[0.5,0.35],[0.6,0.28],[0.7,0.27],[0.8,0.44],[1.0,0.54],[1.2,0.30],[1.3,0.26],[1.4,0.58],[1.6,0.60],[1.8,0.56],[2.0,0.44],[2.2,0.52],[2.4,0.56],[2.6,0.60],[2.8,0.62],[3.0,0.13],[3.1,0.16],[3.2,0.17],[3.3,0.24],[3.4,0.32],[3.6,0.62],[3.8,0.64],[4.0,0.66],[4.2,0.66],[4.4,0.66],[4.6,0.68],[4.8,0.68],[5.0,0.66],[5.2,0.64],[5.4,0.60],[5.6,0.56],[5.8,0.53],[6.0,0.50],[6.2,0.48],[6.4,0.46],[6.6,0.46],[6.8,0.46],[7.0,0.46],[7.2,0.46],[7.4,0.46],[7.6,0.46],[7.8,0.46],[8.2,0.46],[8.4,0.46],[8.5,0.46]];
var d1085Without = [[0,0.71],[0.5,0.50],[0.7,0.45],[0.9,0.40],[1.1,0.42],[1.3,0.44],[1.5,0.42],[1.7,0.40],[1.9,0.42],[2.1,0.43],[2.3,0.44],[2.5,0.45],[2.7,0.46],[2.9,0.44],[3.1,0.48],[3.3,0.36],[3.5,0.35],[3.7,0.33],[3.9,0.31],[4.0,0.52],[4.2,0.52],[4.4,0.51],[4.6,0.50],[4.8,0.48],[4.1,0.29],[4.3,0.27],[4.5,0.26],[4.7,0.25],[4.9,0.24],[5.1,0.23],[5.3,0.22],[5.5,0.21],[5.7,0.20],[5.9,0.19],[6.1,0.18],[6.3,0.18],[6.5,0.17],[6.7,0.17],[6.9,0.16],[7.1,0.16],[7.3,0.16],[7.5,0.16],[7.7,0.16],[8.2,0.16],[8.4,0.16],[8.5,0.16]];

// ---- styles ----
var FONT = 'Liberation Serif';
var DARK = '#303030';
var LIGHT = '#8f8f8f';
var SIZES = { triangle: [8, 8], circle: 7, diamond: [7, 9] };

function S(name, shape, filled, data, size) {
    return { name: name, shape: shape, filled: filled, data: data, size: size };
}

var panels = [
    { rect: [61, 42, 291, 215], xmax: 14, major: ticks14, minor: minor14,
      series: [S('RSN158', 'triangle', true, a158With), S('RSN159', 'circle', true, a159With), S('RSN160', 'diamond', true, a160With),
               S('RSN158', 'triangle', false, a158Without), S('RSN159', 'circle', false, a159Without), S('RSN160', 'diamond', false, a160Without)],
      box: { rect: [252, 206, 96, 45], rows: [214, 228, 242], fillX: 270, openX: 292, textX: 305,
             items: [['triangle', 'RSN158'], ['circle', 'RSN159'], ['diamond', 'RSN160']] },
      asp: { x: 72, y: 229, textX: 87 } },
    { rect: [399, 37, 289, 214], xmax: 10, major: ticks10, minor: minor10,
      series: [S('RSN1086', 'triangle', true, a1086With), S('RSN1086', 'triangle', false, a1086Without)],
      box: { rect: [595, 46, 88, 13], rows: [53], fillX: 630, openX: 603, textX: 637,
             items: [['triangle', 'RSN1086']] },
      asp: { x: 593, y: 224, textX: 607 } },
    { rect: [61, 332, 291, 215], xmax: 14, major: ticks14, minor: minor14,
      series: [S('RSN171', 'triangle', true, b171With), S('RSN179', 'circle', true, b179With), S('RSN180', 'diamond', true, b180With),
               S('RSN171', 'triangle', false, b171Without), S('RSN179', 'circle', false, b179Without), S('RSN180', 'diamond', false, b180Without)],
      box: { rect: [253, 495, 94, 45], rows: [503, 517, 531], fillX: 290, openX: 267, textX: 305,
             items: [['triangle', 'RSN171'], ['circle', 'RSN179'], ['diamond', 'RSN180']] },
      asp: { x: 77, y: 521, textX: 93 } },
    { rect: [399, 332, 291, 215], xmax: 14, major: ticks14, minor: minor14,
      series: [S('RSN181', 'triangle', true, b181With), S('RSN182', 'circle', true, b182With), S('RSN183', 'diamond', true, b183With), S('RSN184', 'circle', true, b184With),
               S('RSN181', 'triangle', false, b181Without), S('RSN182', 'circle', false, b182Without), S('RSN183', 'diamond', false, b183Without), S('RSN184', 'circle', false, b184Without)],
      box: { rect: [592, 483, 95, 59], rows: [491, 505, 519, 534], fillX: 630, openX: 607, textX: 643,
             items: [['triangle', 'RSN181'], ['circle', 'RSN182'], ['diamond', 'RSN183'], ['circle', 'RSN184']] },
      asp: { x: 415, y: 521, textX: 429 } },
    { rect: [61, 621, 291, 215], xmax: 10, major: ticks10, minor: minor10,
      series: [S('RSN982', 'triangle', true, c982With), S('RSN983', 'circle', true, c983With), S('RSN1013', 'diamond', true, c1013With),
               S('RSN982', 'triangle', false, c982Without), S('RSN983', 'circle', false, c983Without), S('RSN1013', 'diamond', false, c1013Without)],
      box: { rect: [248, 625, 99, 45], rows: [633, 648, 662], fillX: 285, openX: 262, textX: 292,
             items: [['triangle', 'RSN982'], ['circle', 'RSN983'], ['diamond', 'RSN1013']] },
      asp: { x: 265, y: 808, textX: 274 } },
    { rect: [399, 621, 290, 215], xmax: 10, major: ticks10, minor: minor10,
      series: [S('RSN1044', 'triangle', true, c1044With), S('RSN1045', 'circle', true, c1045With), S('RSN1050', 'diamond', true, c1050With),
               S('RSN1044', 'triangle', false, c1044Without), S('RSN1045', 'circle', false, c1045Without), S('RSN1050', 'diamond', false, c1050Without)],
      box: { rect: [587, 626, 99, 42], rows: [633, 647, 661], fillX: 627, openX: 602, textX: 638,
             items: [['triangle', 'RSN1044'], ['circle', 'RSN1045'], ['diamond', 'RSN1050']] },
      asp: { x: 602, y: 808, textX: 611 } },
    { rect: [63, 874, 290, 215], xmax: 10, major: ticks10, minor: minor10,
      series: [S('RSN1054', 'triangle', true, d1054With), S('RSN1063', 'circle', true, d1063With), S('RSN1084', 'circle', true, d1084With), S('RSN1085', 'diamond', true, d1085With),
               S('RSN1054', 'triangle', false, d1054Without), S('RSN1063', 'circle', false, d1063Without, 9), S('RSN1084', 'circle', false, d1084Without), S('RSN1085', 'diamond', false, d1085Without)],
      box: { rect: [68, 877, 98, 61], rows: [886, 900, 914, 928], fillX: 107, openX: 82, textX: 120,
             items: [['triangle', 'RSN1054'], ['circle', 'RSN1063', 9], ['circle', 'RSN1084'], ['diamond', 'RSN1085']] },
      asp: { x: 267, y: 1063, textX: 276 } }
];

// small shapes for the hand-made legends
function marker(kind, cx, cy, filled, size) {
    var style = filled ? { fill: DARK, stroke: null } : { fill: 'none', stroke: LIGHT, lineWidth: 1 };
    if (kind === 'circle') {
        var r = (size || 7) / 2;
        return { type: 'circle', shape: { cx: cx, cy: cy, r: r }, style: style, silent: true };
    }
    if (kind === 'triangle') {
        return { type: 'polygon', shape: { points: [[cx, cy - 4.5], [cx + 4, cy + 3.5], [cx - 4, cy + 3.5]] }, style: style, silent: true };
    }
    return { type: 'polygon', shape: { points: [[cx, cy - 4.5], [cx + 3.5, cy], [cx, cy + 4.5], [cx - 3.5, cy]] }, style: style, silent: true };
}

function label(text, x, y, size, extra) {
    var st = { text: text, x: x, y: y, fill: '#222', font: (size || 11) + 'px "' + FONT + '"', textVerticalAlign: 'middle' };
    if (extra) { for (var k in extra) st[k] = extra[k]; }
    return { type: 'text', style: st, silent: true };
}

var axisLine = { show: true, onZero: false, lineStyle: { color: '#333', width: 1 } };
var noLine = { show: false, onZero: false };
var tickStyle = { color: '#333', width: 1 };

var grids = [], xAxes = [], yAxes = [], series = [], graphics = [];

panels.forEach(function (p, i) {
    var g = { left: p.rect[0], top: p.rect[1], width: p.rect[2], height: p.rect[3] };
    grids.push(g, { left: g.left, top: g.top, width: g.width, height: g.height });
    var gi = 2 * i;
    xAxes.push(
        { gridIndex: gi, type: 'value', min: -1, max: p.xmax, position: 'bottom',
          name: 'Time(s)', nameLocation: 'middle', nameGap: 20,
          nameTextStyle: { fontFamily: FONT, fontSize: 14, color: '#222' },
          axisLine: axisLine, splitLine: { show: false },
          axisTick: { inside: true, length: 5, customValues: p.major, lineStyle: tickStyle },
          axisLabel: { customValues: p.major, margin: 5, fontFamily: FONT, fontSize: 14, color: '#222' } },
        { gridIndex: gi, type: 'value', min: -1, max: p.xmax, position: 'top',
          axisLine: axisLine, splitLine: { show: false }, axisLabel: { show: false },
          axisTick: { inside: true, length: 5, customValues: p.major, lineStyle: tickStyle } },
        { gridIndex: gi + 1, type: 'value', min: -1, max: p.xmax, position: 'bottom',
          axisLine: noLine, splitLine: { show: false }, axisLabel: { show: false },
          axisTick: { inside: true, length: 3, customValues: p.minor, lineStyle: tickStyle } },
        { gridIndex: gi + 1, type: 'value', min: -1, max: p.xmax, position: 'top',
          axisLine: noLine, splitLine: { show: false }, axisLabel: { show: false },
          axisTick: { inside: true, length: 3, customValues: p.minor, lineStyle: tickStyle } }
    );
    yAxes.push(
        { gridIndex: gi, type: 'value', min: 0, max: 1, interval: 0.1, position: 'left',
          name: '{e|E}{p|p}', nameLocation: 'middle', nameGap: 26, nameRotate: 90,
          nameTextStyle: { rich: {
              e: { fontFamily: FONT, fontSize: 14, color: '#222', lineHeight: 22 },
              p: { fontFamily: FONT, fontSize: 10, color: '#222', lineHeight: 10, verticalAlign: 'bottom' } } },
          axisLine: axisLine, splitLine: { show: false },
          axisTick: { inside: true, length: 5, lineStyle: tickStyle },
          minorTick: { show: true, splitNumber: 2, length: 3, lineStyle: tickStyle },
          axisLabel: { margin: 5, fontFamily: FONT, fontSize: 14, color: '#222', formatter: function (v) { return v.toFixed(1); } } },
        { gridIndex: gi, type: 'value', min: 0, max: 1, interval: 0.1, position: 'right',
          axisLine: axisLine, splitLine: { show: false }, axisLabel: { show: false },
          axisTick: { inside: true, length: 5, lineStyle: tickStyle },
          minorTick: { show: true, splitNumber: 2, length: 3, lineStyle: tickStyle } },
        { gridIndex: gi + 1, type: 'value', min: 0, max: 1, show: false, axisLine: noLine }
    );
    p.series.forEach(function (s) {
        var item = s.filled
            ? { color: DARK }
            : { color: 'rgba(0,0,0,0)', borderColor: LIGHT, borderWidth: 1 };
        series.push({
            type: 'scatter', name: s.name + (s.filled ? '' : ' '), xAxisIndex: 4 * i, yAxisIndex: 3 * i,
            data: s.data, symbol: s.shape, symbolSize: s.size || SIZES[s.shape],
            itemStyle: item, silent: true, emphasis: { disabled: true }, z: s.filled ? 2 : 3
        });
    });

    // RSN legend box
    var b = p.box;
    graphics.push({ type: 'rect', shape: { x: b.rect[0], y: b.rect[1], width: b.rect[2], height: b.rect[3] },
        style: { fill: '#fff', stroke: '#666', lineWidth: 1 }, z: 50, silent: true });
    b.items.forEach(function (it, k) {
        var y = b.rows[k];
        var o = marker(it[0], b.openX, y, false, it[2]); o.z = 51;
        var f = marker(it[0], b.fillX, y, true); f.z = 51;
        var t = label(it[1], b.textX, y, 11); t.z = 51;
        graphics.push(o, f, t);
    });
    // with / without asperity
    var a = p.asp;
    var f1 = marker('triangle', a.x, a.y, true); f1.z = 51;
    var o1 = marker('triangle', a.x, a.y + 14, false); o1.z = 51;
    var t1 = label('with asperity', a.textX, a.y, 11); t1.z = 51;
    var t2 = label('without asperity', a.textX, a.y + 14, 11); t2.z = 51;
    graphics.push(f1, o1, t1, t2);
});

// titles and panel letters
graphics.push(
    label('Imperial Valley Earthquake', 195, 13, 18, { textAlign: 'center' }),
    label('Northridge Earthquake', 533, 13, 18, { textAlign: 'center' }),
    label('Imperial Valley Earthquake', 372, 305, 18, { textAlign: 'center' }),
    label('Northridge Earthquake', 350, 593, 18, { textAlign: 'center' }),
    label('A', 4, 35, 20, { font: 'bold 20px "Liberation Sans"' }),
    label('B', 4, 338, 20, { font: 'bold 20px "Liberation Sans"' })
);

var option = {
    animation: false,
    backgroundColor: '#fff',
    grid: grids,
    xAxis: xAxes,
    yAxis: yAxes,
    series: series,
    graphic: { elements: graphics }
};

var chart = echarts.init(document.getElementById('chart'), null, { renderer: 'canvas' });
chart.setOption(option);
</script>
</body>
</html>
